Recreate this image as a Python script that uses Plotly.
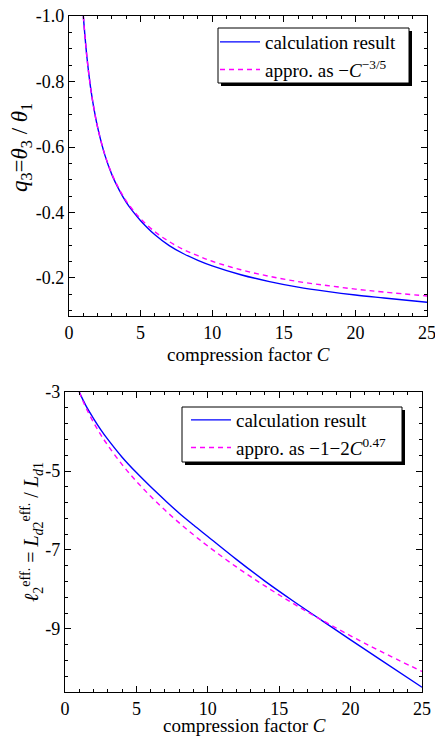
import plotly.graph_objects as go

# ---- data ----
C_vals = [1, 1.25, 1.5, 1.75, 2, 2.5, 3, 3.5, 4, 4.5, 5, 6, 7, 8, 9, 10, 12, 14, 16, 18, 20, 22, 25]
q3_calc = [-1.0, -0.875, -0.784, -0.715, -0.660, -0.576, -0.515, -0.469, -0.431, -0.401, -0.375,
           -0.332, -0.299, -0.274, -0.254, -0.237, -0.210, -0.189, -0.172, -0.159, -0.148, -0.139, -0.126]
q3_appr = [-1.0, -0.875, -0.784, -0.715, -0.660, -0.577, -0.517, -0.472, -0.435, -0.406, -0.381,
           -0.341, -0.311, -0.287, -0.268, -0.251, -0.225, -0.205, -0.189, -0.177, -0.166, -0.157, -0.145]

C2_vals = [1, 1.25, 1.5, 2, 2.5, 3, 4, 5, 6, 7, 8, 9, 10, 12, 14, 16, 18, 20, 22, 25]
l2_calc = [-3.00, -3.19, -3.37, -3.67, -3.95, -4.20, -4.65, -5.04, -5.40, -5.74, -6.07, -6.37, -6.66,
           -7.24, -7.79, -8.30, -8.79, -9.28, -9.76, -10.48]
l2_appr = [-3.00, -3.221, -3.420, -3.770, -4.077, -4.352, -4.837, -5.261, -5.642, -5.991, -6.315,
           -6.617, -6.902, -7.431, -7.913, -8.362, -8.780, -9.175, -9.551, -10.080]

x_ticks = [0, 5, 10, 15, 20, 25]
x_ticktext = ["0", "5", "10", "15", "20", "25"]
y1_ticks = [-1.0, -0.8, -0.6, -0.4, -0.2]
y1_ticktext = ["-1.0", "-0.8", "-0.6", "-0.4", "-0.2"]
y2_ticks = [-3, -5, -7, -9]
y2_ticktext = ["-3", "-5", "-7", "-9"]

FONT = "Liberation Serif"
W, H = 435, 736
BLUE = "#0000ff"
PINK = "#ff00ff"

fig = go.Figure()
fig.add_trace(go.Scatter(x=C_vals, y=q3_calc, mode="lines", line=dict(color=BLUE, width=1.4, shape="spline"),
                         name="calculation result", xaxis="x", yaxis="y", legend="legend"))
fig.add_trace(go.Scatter(x=C_vals, y=q3_appr, mode="lines", line=dict(color=PINK, width=1.4, dash="5px,4px", shape="spline"),
                         name="appro. as −<i>C</i><sup>−3/5</sup>", xaxis="x", yaxis="y", legend="legend"))
fig.add_trace(go.Scatter(x=C2_vals, y=l2_calc, mode="lines", line=dict(color=BLUE, width=1.4, shape="spline"),
                         name="calculation result", xaxis="x2", yaxis="y2", legend="legend2"))
fig.add_trace(go.Scatter(x=C2_vals, y=l2_appr, mode="lines", line=dict(color=PINK, width=1.4, dash="5px,4px", shape="spline"),
                         name="appro. as −1−2<i>C</i><sup>0.47</sup>", xaxis="x2", yaxis="y2", legend="legend2"))

def px_x(p):
    return p / W

def px_y(p):
    return (H - p) / H

axis_common = dict(showline=True, linecolor="black", linewidth=1.3, mirror="ticks", ticks="inside",
                   ticklen=6, tickwidth=1, tickcolor="black", showgrid=False, zeroline=False,
                   tickfont=dict(family=FONT, size=18, color="black"), automargin=False,
                   ticklabeloverflow="allow")

fig.update_layout(
    width=W, height=H, margin=dict(l=0, r=0, t=0, b=0),
    paper_bgcolor="white", plot_bgcolor="white",
    font=dict(family=FONT, size=19, color="black"),
    xaxis=dict(domain=[px_x(69), px_x(427)], range=[0, 25], anchor="y", tickvals=x_ticks, ticktext=x_ticktext,
               minor=dict(dtick=1, ticks="inside", ticklen=3, tickcolor="black"), **axis_common),
    yaxis=dict(domain=[px_y(316), px_y(16)], range=[-0.0838, -1.0004], anchor="x", tickvals=y1_ticks, ticktext=y1_ticktext,
               minor=dict(tick0=-1.0, dtick=0.05, ticks="inside", ticklen=3, tickcolor="black"), **axis_common),
    xaxis2=dict(domain=[px_x(65), px_x(422)], range=[0, 25], anchor="y2", tickvals=x_ticks, ticktext=x_ticktext,
                minor=dict(dtick=1, ticks="inside", ticklen=3, tickcolor="black"), **axis_common),
    yaxis2=dict(domain=[px_y(692), px_y(392)], range=[-10.6, -2.998], anchor="x2", tickvals=y2_ticks, ticktext=y2_ticktext,
                minor=dict(tick0=-3, dtick=0.4, ticks="inside", ticklen=3, tickcolor="black"), **axis_common),
    legend=dict(x=px_x(215), y=px_y(23), xanchor="left", yanchor="top", bgcolor="rgba(0,0,0,0)",
                borderwidth=0, font=dict(family=FONT, size=19), tracegroupgap=0, itemwidth=40),
    legend2=dict(x=px_x(186), y=px_y(401), xanchor="left", yanchor="top", bgcolor="rgba(0,0,0,0)",
                 borderwidth=0, font=dict(family=FONT, size=19), tracegroupgap=0, itemwidth=40),
    showlegend=True,
)

# legend boxes with drop shadows (decoration)
for (bx0, by0, bx1, by1) in [(218, 28, 409, 83), (182, 407, 402, 462)]:
    fig.add_shape(type="rect", xref="paper", yref="paper", x0=px_x(bx0 + 3), x1=px_x(bx1 + 3),
                  y0=px_y(by1 + 3), y1=px_y(by0 + 3), fillcolor="black", line=dict(width=0), layer="above")
    fig.add_shape(type="rect", xref="paper", yref="paper", x0=px_x(bx0), x1=px_x(bx1),
                  y0=px_y(by1), y1=px_y(by0), fillcolor="white", line=dict(color="black", width=1), layer="above")

fig.add_annotation(text="compression factor <i>C</i>", x=px_x(248), y=px_y(354), xref="paper", yref="paper",
                   showarrow=False, font=dict(family=FONT, size=19, color="black"), xanchor="center", yanchor="middle")
fig.add_annotation(text="compression factor <i>C</i>", x=px_x(244), y=px_y(725), xref="paper", yref="paper",
                   showarrow=False, font=dict(family=FONT, size=19, color="black"), xanchor="center", yanchor="middle")
fig.add_annotation(text="<i>q</i><sub>3</sub>=<i>θ</i><sub>3</sub> / <i>θ</i><sub>1</sub>",
                   x=px_x(21), y=px_y(148), xref="paper", yref="paper", textangle=-90,
                   showarrow=False, font=dict(family=FONT, size=23, color="black"), xanchor="center", yanchor="middle")
fig.add_annotation(text="<i>ℓ</i><sub>2</sub><sup>eff.</sup> = <i>L</i><sub><i>d</i>2</sub><sup>eff.</sup> / <i>L</i><sub><i>d</i>1</sub>",
                   x=px_x(32), y=px_y(532), xref="paper", yref="paper", textangle=-90,
                   showarrow=False, font=dict(family=FONT, size=20, color="black"), xanchor="center", yanchor="middle")

fig.write_html("out.html", config={"displayModeBar": False},
               post_script="document.body.style.margin='0px';document.body.style.overflow='hidden';")
